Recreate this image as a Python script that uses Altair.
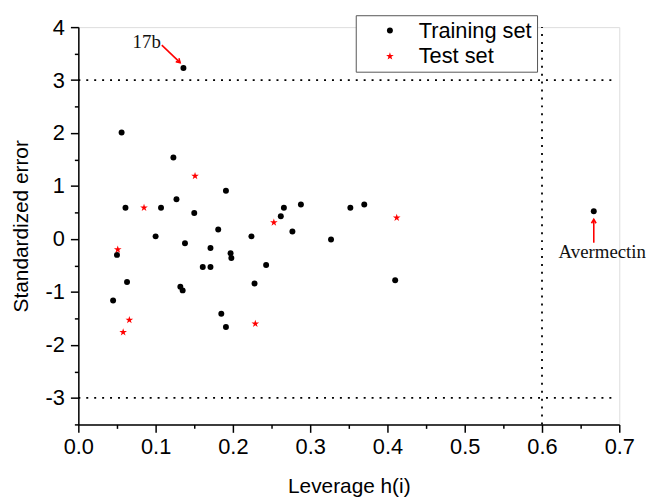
import altair as alt
import pandas as pd

# ---- data ----
train_x = [0.056, 0.123, 0.191, 0.061, 0.107, 0.127, 0.150, 0.100, 0.181, 0.224,
           0.138, 0.171, 0.050, 0.277, 0.197, 0.198, 0.161, 0.171, 0.243, 0.063,
           0.132, 0.135, 0.228, 0.045, 0.185, 0.191, 0.266, 0.262, 0.288, 0.327,
           0.352, 0.370, 0.410, 0.136, 0.667]
train_y = [2.01, 1.54, 0.91, 0.59, 0.59, 0.75, 0.49, 0.05, 0.18, 0.05,
           -0.08, -0.17, -0.30, 0.14, -0.27, -0.36, -0.53, -0.53, -0.49, -0.81,
           -0.90, -0.97, -0.84, -1.16, -1.41, -1.66, 0.59, 0.43, 0.65, -0.01,
           0.59, 0.65, -0.78, 3.23, 0.525]
test_x = [0.151, 0.085, 0.051, 0.066, 0.058, 0.229, 0.253, 0.412]
test_y = [1.19, 0.59, -0.20, -1.53, -1.76, -1.60, 0.31, 0.40]
set_names = ["Training set", "Test set"]

x_ticks = [0.0, 0.1, 0.2, 0.3, 0.4, 0.5, 0.6, 0.7]
x_minor = [0.05, 0.15, 0.25, 0.35, 0.45, 0.55, 0.65]
y_ticks = [-3, -2, -1, 0, 1, 2, 3, 4]
y_minor = [-3.5, -2.5, -1.5, -0.5, 0.5, 1.5, 2.5, 3.5]

limit_y = [3, -3]
limit_x = [0.6]
x_range = [0.0, 0.69]
y_range = [-3.5, 4.0]

note_text = ["17b", "Avermectin"]
note_x = [0.0885, 0.678]
note_y = [3.715, -0.253]
arrow_x = [0.108, 0.667]
arrow_y = [3.66, -0.07]
arrow_x2 = [0.1317, 0.667]
arrow_y2 = [3.33, 0.37]
arrow_angle = [44, 270]

# ---- chart ----
SANS = "Liberation Sans"
SERIF = "Liberation Serif"
STAR = ("M0,-1L0.2245,-0.309L0.951,-0.309L0.363,0.118L0.588,0.809L0,0.382"
        "L-0.588,0.809L-0.363,0.118L-0.951,-0.309L-0.2245,-0.309Z")
ARROWHEAD = "M-1,-0.6L0,0L-1,0.6"

xscale = alt.Scale(domain=[0, 0.7], nice=False, zero=False)
yscale = alt.Scale(domain=[-3.5, 4], nice=False, zero=False)

main_x_axis = alt.Axis(values=x_ticks, labelExpr="format(datum.value, '.1f')",
                       orient="bottom", grid=False, labelFont=SANS, labelFontSize=22,
                       labelColor="black", labelPadding=4, labelFlush=False,
                       tickColor="black", tickSize=8, tickWidth=1.5,
                       domainColor="black", domainWidth=1.5,
                       title="Leverage h(i)", titleFont=SANS, titleFontSize=21,
                       titleFontWeight="normal", titleColor="black", titlePadding=19)
main_y_axis = alt.Axis(values=y_ticks, labelExpr="'' + datum.value",
                       orient="left", grid=False, labelFont=SANS, labelFontSize=22,
                       labelColor="black", labelPadding=6, labelFlush=False,
                       tickColor="black", tickSize=8, tickWidth=1.5,
                       domainColor="black", domainWidth=1.5,
                       title="Standardized error", titleFont=SANS, titleFontSize=21,
                       titleFontWeight="normal", titleColor="black", titlePadding=14)
minor_x_axis = alt.Axis(values=x_minor, orient="bottom", labels=False, domain=False,
                        grid=False, tickColor="black", tickSize=4, tickWidth=1.5,
                        title=None)
minor_y_axis = alt.Axis(values=y_minor, orient="left", labels=False, domain=False,
                        grid=False, tickColor="black", tickSize=4, tickWidth=1.5,
                        title=None)

hl = pd.DataFrame({"y": limit_y, "x0": [x_range[0]] * len(limit_y),
                   "x1": [x_range[1]] * len(limit_y)})
vl = pd.DataFrame({"x": limit_x, "y0": [y_range[0]] * len(limit_x),
                   "y1": [y_range[1]] * len(limit_x)})

hlines = alt.Chart(hl).mark_rule(color="black", strokeDash=[2, 6], strokeWidth=1.8).encode(
    x=alt.X("x0:Q", scale=xscale, axis=minor_x_axis),
    x2="x1:Q",
    y=alt.Y("y:Q", scale=yscale, axis=minor_y_axis),
)
vlines = alt.Chart(vl).mark_rule(color="black", strokeDash=[2, 6], strokeWidth=1.8).encode(
    x=alt.X("x:Q", scale=xscale, axis=None),
    y=alt.Y("y0:Q", scale=yscale, axis=None),
    y2="y1:Q",
)

pts = pd.DataFrame({
    "h": train_x + test_x,
    "e": train_y + test_y,
    "set": [set_names[0]] * len(train_x) + [set_names[1]] * len(test_x),
})
legend = alt.Legend(title=None, orient="none", legendX=280, legendY=-12,
                    labelFont=SANS, labelFontSize=22, labelColor="black",
                    symbolSize=25, padding=4.5, rowPadding=4,
                    symbolOffset=19, labelOffset=18,
                    strokeColor="#555555", fillColor="white")
points = alt.Chart(pts).mark_point(filled=True, opacity=1).encode(
    x=alt.X("h:Q", scale=xscale, axis=main_x_axis),
    y=alt.Y("e:Q", scale=yscale, axis=main_y_axis),
    color=alt.Color("set:N", scale=alt.Scale(domain=set_names, range=["black", "red"]),
                    legend=legend),
    shape=alt.Shape("set:N", scale=alt.Scale(domain=set_names, range=["circle", STAR]),
                    legend=legend),
    size=alt.Size("set:N", scale=alt.Scale(domain=set_names, range=[36, 66]), legend=None),
)

notes = pd.DataFrame({"t": note_text, "x": note_x, "y": note_y})
texts = alt.Chart(notes).mark_text(font=SERIF, fontSize=19, color="#111111",
                                   align="center", baseline="middle").encode(
    x=alt.X("x:Q", scale=xscale, axis=None),
    y=alt.Y("y:Q", scale=yscale, axis=None),
    text="t:N",
)

arr = pd.DataFrame({"x": arrow_x, "y": arrow_y, "x2": arrow_x2, "y2": arrow_y2,
                    "a": arrow_angle})
shafts = alt.Chart(arr).mark_rule(color="red", strokeWidth=1.6).encode(
    x=alt.X("x:Q", scale=xscale, axis=None),
    y=alt.Y("y:Q", scale=yscale, axis=None),
    x2="x2:Q",
    y2="y2:Q",
)
heads = alt.Chart(arr).mark_point(shape=ARROWHEAD, filled=False, color="red",
                                  strokeWidth=1.6, size=60, opacity=1).encode(
    x=alt.X("x2:Q", scale=xscale, axis=None),
    y=alt.Y("y2:Q", scale=yscale, axis=None),
    angle=alt.Angle("a:Q", scale=None),
)

chart = alt.layer(hlines, vlines, points, shafts, heads, texts).resolve_axis(
    x="independent", y="independent"
).properties(
    width=546, height=401, autosize="none",
    padding={"left": 71, "top": 17, "right": 30, "bottom": 74},
).configure_view(stroke=None).configure(background="white")

chart.save("out.html", embed_options={"renderer": "svg", "actions": False})
